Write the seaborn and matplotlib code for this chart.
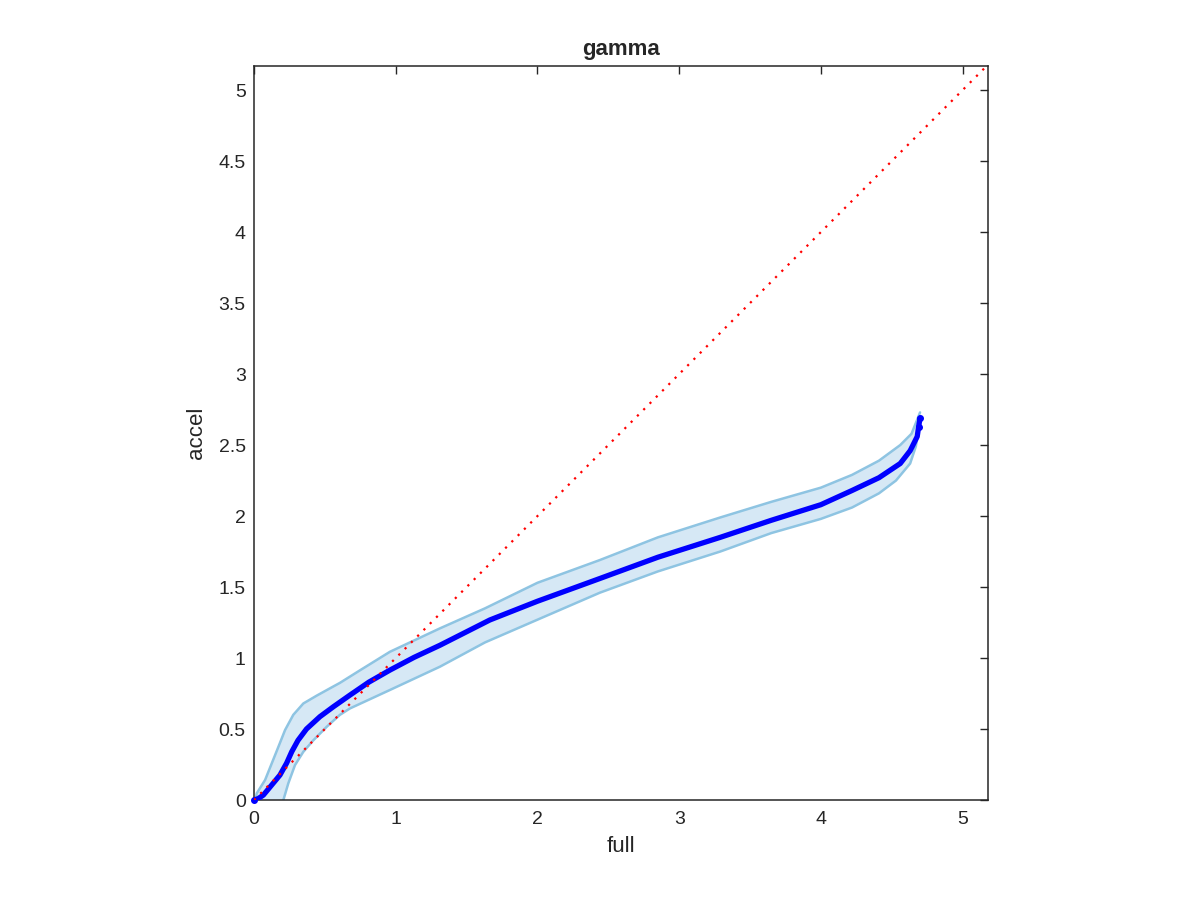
import numpy as np
import pandas as pd
import seaborn as sns
import matplotlib.pyplot as plt

# median curve (full vs accel)
mid_x = [0.0, 0.03, 0.066, 0.125, 0.183, 0.23, 0.266, 0.31, 0.37, 0.465, 0.56, 0.677,
         0.81, 0.959, 1.13, 1.312, 1.49, 1.664, 2.0, 2.44, 2.85, 3.29, 3.65, 4.0,
         4.22, 4.41, 4.56, 4.63, 4.68, 4.69, 4.70]
mid_y = [0.0, 0.01, 0.035, 0.106, 0.176, 0.26, 0.34, 0.42, 0.50, 0.587, 0.657, 0.739,
         0.83, 0.915, 1.005, 1.09, 1.18, 1.268, 1.40, 1.56, 1.71, 1.85, 1.97, 2.08,
         2.18, 2.27, 2.37, 2.46, 2.56, 2.63, 2.69]
# end points drawn as separate dots
tail_x = [0.0, 4.69, 4.70]
tail_y = [0.0, 2.63, 2.69]

# band upper edge
up_x = [0.01, 0.019, 0.078, 0.125, 0.172, 0.219, 0.277, 0.348, 0.442, 0.56, 0.606,
        0.75, 0.959, 1.312, 1.63, 2.0, 2.44, 2.85, 3.29, 3.65, 4.0, 4.22, 4.41, 4.56,
        4.64, 4.68, 4.70]
up_y = [0.0, 0.047, 0.141, 0.258, 0.375, 0.493, 0.60, 0.68, 0.735, 0.80, 0.825,
        0.915, 1.044, 1.209, 1.35, 1.53, 1.69, 1.85, 1.99, 2.10, 2.20, 2.29, 2.39, 2.50,
        2.58, 2.68, 2.73]
# band lower edge
lo_x = [0.207, 0.242, 0.289, 0.348, 0.418, 0.513, 0.606, 0.677, 0.959, 1.312, 1.63,
        2.0, 2.44, 2.85, 3.29, 3.65, 4.0, 4.22, 4.41, 4.53, 4.63, 4.67, 4.69]
lo_y = [0.0, 0.118, 0.246, 0.34, 0.42, 0.516, 0.60, 0.645, 0.775, 0.939, 1.11,
        1.27, 1.46, 1.61, 1.75, 1.88, 1.98, 2.06, 2.16, 2.25, 2.37, 2.49, 2.61]

diag = [0.0, 5.18]

x_ticks = [0, 1, 2, 3, 4, 5]
y_ticks = [0, 0.5, 1, 1.5, 2, 2.5, 3, 3.5, 4, 4.5, 5]
y_tick_labels = ['0', '0.5', '1', '1.5', '2', '2.5', '3', '3.5', '4', '4.5', '5']

sns.set_style('white')
plt.rcParams['font.family'] = ['Liberation Sans', 'DejaVu Sans']

fig = plt.figure(figsize=(12, 9), dpi=100)
ax = fig.add_axes([0.2117, 0.1111, 0.6117, 0.8156])

# shaded band
poly_x = up_x + lo_x[::-1]
poly_y = up_y + lo_y[::-1]
ax.fill(poly_x, poly_y, facecolor='#d6e8f5', edgecolor='none', zorder=1)
ax.plot(up_x, up_y, color='#8ec4e2', lw=1.8, zorder=2)
ax.plot(lo_x, lo_y, color='#8ec4e2', lw=1.8, zorder=2)

df = pd.DataFrame({'full': mid_x, 'accel': mid_y})
sns.lineplot(data=df, x='full', y='accel', sort=False, estimator=None,
             color='#0000ff', lw=3.8, ax=ax, zorder=3)
ax.scatter(tail_x, tail_y, s=16, color='#0000ff', zorder=4, clip_on=False)

ax.plot(diag, diag, color='#ff0000', ls=(0, (1, 3)), lw=1.6, zorder=5)

ax.set_xlim(0, 5.18)
ax.set_ylim(0, 5.17)
ax.set_xticks(x_ticks)
ax.set_xticklabels([str(t) for t in x_ticks])
ax.set_yticks(y_ticks)
ax.set_yticklabels(y_tick_labels)
ax.tick_params(direction='in', length=6, width=1, top=True, right=True,
               labelsize=14, colors='#262626')
ax.tick_params(axis='x', pad=8)
ax.tick_params(axis='y', pad=6)
for s in ax.spines.values():
    s.set_color('#262626')
    s.set_linewidth(1.1)

ax.set_xlabel('full', fontsize=16, color='#262626', labelpad=6)
ax.set_ylabel('accel', fontsize=16, color='#262626', labelpad=8)
ax.set_title('gamma', fontsize=16, fontweight='bold', pad=8)

plt.savefig('out.png')
